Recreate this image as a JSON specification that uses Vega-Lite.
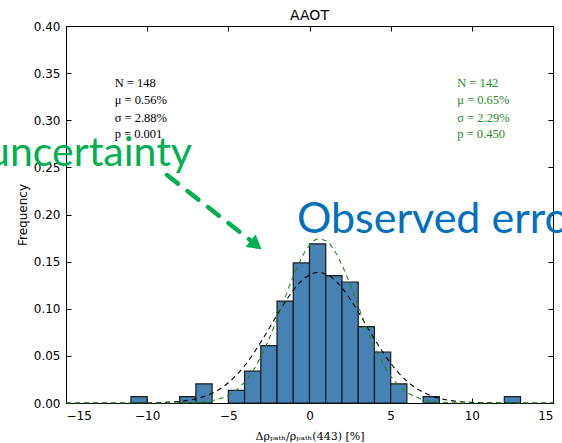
{
  "$schema": "https://vega.github.io/schema/vega-lite/v6.json",
  "autosize": {"type": "none"},
  "padding": {"left": 66, "top": 26, "right": 9, "bottom": 40},
  "width": 487,
  "height": 377,
  "background": "white",
  "title": {"text": "AAOT", "font": "DejaVu Sans", "fontSize": 14, "fontWeight": "normal", "color": "black", "offset": -3, "anchor": "middle", "frame": "group"},
  "config": {
    "view": {"stroke": "black", "strokeWidth": 1},
    "axis": {"grid": false, "labelFont": "DejaVu Sans", "labelFontSize": 12, "labelColor": "black", "titleFont": "DejaVu Sans", "titleFontSize": 12, "titleFontWeight": "normal", "titleColor": "black", "tickColor": "black", "domainColor": "black", "tickSize": -5, "labelPadding": 10}
  },
  "datasets": {
    "bars": [
      {"lo": -11, "hi": -10, "freq": 0.0068},
      {"lo": -8, "hi": -7, "freq": 0.0068},
      {"lo": -7, "hi": -6, "freq": 0.0203},
      {"lo": -5, "hi": -4, "freq": 0.0135},
      {"lo": -4, "hi": -3, "freq": 0.0338},
      {"lo": -3, "hi": -2, "freq": 0.0608},
      {"lo": -2, "hi": -1, "freq": 0.1081},
      {"lo": -1, "hi": 0, "freq": 0.1486},
      {"lo": 0, "hi": 1, "freq": 0.1689},
      {"lo": 1, "hi": 2, "freq": 0.1351},
      {"lo": 2, "hi": 3, "freq": 0.1284},
      {"lo": 3, "hi": 4, "freq": 0.0811},
      {"lo": 4, "hi": 5, "freq": 0.0541},
      {"lo": 5, "hi": 6, "freq": 0.0203},
      {"lo": 7, "hi": 8, "freq": 0.0068},
      {"lo": 12, "hi": 13, "freq": 0.0068}
    ],
    "curves": [
      {"s": "all", "x": -15, "y": 0}, {"s": "all", "x": -12, "y": 0.00000}, {"s": "all", "x": -10, "y": 0.00017}, {"s": "all", "x": -9, "y": 0.00056}, {"s": "all", "x": -8.5, "y": 0.00098}, {"s": "all", "x": -8, "y": 0.00167}, {"s": "all", "x": -7.5, "y": 0.00276}, {"s": "all", "x": -7, "y": 0.00442}, {"s": "all", "x": -6.5, "y": 0.00686}, {"s": "all", "x": -6, "y": 0.01035}, {"s": "all", "x": -5.5, "y": 0.01514}, {"s": "all", "x": -5, "y": 0.02149}, {"s": "all", "x": -4.5, "y": 0.02959}, {"s": "all", "x": -4, "y": 0.03955}, {"s": "all", "x": -3.5, "y": 0.05128}, {"s": "all", "x": -3, "y": 0.06452}, {"s": "all", "x": -2.5, "y": 0.07876}, {"s": "all", "x": -2, "y": 0.09331}, {"s": "all", "x": -1.5, "y": 0.10726}, {"s": "all", "x": -1, "y": 0.11963}, {"s": "all", "x": -0.5, "y": 0.12945}, {"s": "all", "x": 0, "y": 0.13593}, {"s": "all", "x": 0.5, "y": 0.13849}, {"s": "all", "x": 1, "y": 0.13691}, {"s": "all", "x": 1.5, "y": 0.13133}, {"s": "all", "x": 2, "y": 0.12224}, {"s": "all", "x": 2.5, "y": 0.11040}, {"s": "all", "x": 3, "y": 0.09676}, {"s": "all", "x": 3.5, "y": 0.08227}, {"s": "all", "x": 4, "y": 0.06788}, {"s": "all", "x": 4.5, "y": 0.05434}, {"s": "all", "x": 5, "y": 0.04221}, {"s": "all", "x": 5.5, "y": 0.03182}, {"s": "all", "x": 6, "y": 0.02327}, {"s": "all", "x": 6.5, "y": 0.01651}, {"s": "all", "x": 7, "y": 0.01137}, {"s": "all", "x": 7.5, "y": 0.00760}, {"s": "all", "x": 8, "y": 0.00492}, {"s": "all", "x": 8.5, "y": 0.00310}, {"s": "all", "x": 9, "y": 0.00189}, {"s": "all", "x": 9.5, "y": 0.00112}, {"s": "all", "x": 10, "y": 0.00064}, {"s": "all", "x": 11, "y": 0.00019}, {"s": "all", "x": 12, "y": 0.00005}, {"s": "all", "x": 15, "y": 0},
      {"s": "sub", "x": -15, "y": 0}, {"s": "sub", "x": -10, "y": 0}, {"s": "sub", "x": -8, "y": 0.00014}, {"s": "sub", "x": -7, "y": 0.00066}, {"s": "sub", "x": -6.5, "y": 0.00133}, {"s": "sub", "x": -6, "y": 0.00257}, {"s": "sub", "x": -5.5, "y": 0.00473}, {"s": "sub", "x": -5, "y": 0.00830}, {"s": "sub", "x": -4.5, "y": 0.01389}, {"s": "sub", "x": -4, "y": 0.02216}, {"s": "sub", "x": -3.5, "y": 0.03372}, {"s": "sub", "x": -3, "y": 0.04890}, {"s": "sub", "x": -2.5, "y": 0.06765}, {"s": "sub", "x": -2, "y": 0.08918}, {"s": "sub", "x": -1.5, "y": 0.11212}, {"s": "sub", "x": -1, "y": 0.13437}, {"s": "sub", "x": -0.5, "y": 0.15357}, {"s": "sub", "x": 0, "y": 0.16733}, {"s": "sub", "x": 0.5, "y": 0.17384}, {"s": "sub", "x": 1, "y": 0.17219}, {"s": "sub", "x": 1.5, "y": 0.16261}, {"s": "sub", "x": 2, "y": 0.14642}, {"s": "sub", "x": 2.5, "y": 0.12571}, {"s": "sub", "x": 3, "y": 0.10289}, {"s": "sub", "x": 3.5, "y": 0.08029}, {"s": "sub", "x": 4, "y": 0.05975}, {"s": "sub", "x": 4.5, "y": 0.04239}, {"s": "sub", "x": 5, "y": 0.02868}, {"s": "sub", "x": 5.5, "y": 0.01849}, {"s": "sub", "x": 6, "y": 0.01137}, {"s": "sub", "x": 6.5, "y": 0.00667}, {"s": "sub", "x": 7, "y": 0.00373}, {"s": "sub", "x": 7.5, "y": 0.00199}, {"s": "sub", "x": 8, "y": 0.00101}, {"s": "sub", "x": 9, "y": 0.00023}, {"s": "sub", "x": 10, "y": 0.00004}, {"s": "sub", "x": 15, "y": 0}
    ],
    "stats": [
      {"g": "all", "x": -12, "y": 0.3395, "t": "N = 148"},
      {"g": "all", "x": -12, "y": 0.3210, "t": "μ = 0.56%"},
      {"g": "all", "x": -12, "y": 0.3028, "t": "σ = 2.88%"},
      {"g": "all", "x": -12, "y": 0.2853, "t": "p = 0.001"},
      {"g": "sub", "x": 9.1, "y": 0.3395, "t": "N = 142"},
      {"g": "sub", "x": 9.1, "y": 0.3210, "t": "μ = 0.65%"},
      {"g": "sub", "x": 9.1, "y": 0.3028, "t": "σ = 2.29%"},
      {"g": "sub", "x": 9.1, "y": 0.2853, "t": "p = 0.450"}
    ]
  },
  "resolve": {"axis": {"x": "independent", "y": "independent"}},
  "layer": [
    {
      "data": {"name": "bars"},
      "mark": {"type": "bar", "fill": "#4682b4", "stroke": "#1a1a1a", "strokeWidth": 1.2},
      "encoding": {
        "x": {"field": "lo", "type": "quantitative", "scale": {"domain": [-15, 15], "nice": false, "zero": false},
              "axis": {"orient": "bottom", "values": [-15, -10, -5, 0, 5, 10, 15], "format": "d", "title": "Δρₚₐₜₕ/ρₚₐₜₕ(443) [%]", "titleFont": "DejaVu Serif", "titleFontSize": 11, "titlePadding": 9, "labelPadding": 12}},
        "x2": {"field": "hi"},
        "y": {"field": "freq", "type": "quantitative", "scale": {"domain": [0, 0.4], "nice": false},
              "axis": {"orient": "left", "values": [0, 0.05, 0.1, 0.15, 0.2, 0.25, 0.3, 0.35, 0.4], "format": ".2f", "title": "Frequency", "titlePadding": 4, "labelPadding": 11}},
        "y2": {"datum": 0}
      }
    },
    {
      "data": {"name": "curves"},
      "mark": {"type": "line", "strokeDash": [5, 4], "strokeWidth": 1.1, "interpolate": "monotone"},
      "encoding": {
        "x": {"field": "x", "type": "quantitative", "axis": null},
        "y": {"field": "y", "type": "quantitative", "axis": null},
        "detail": {"field": "s"},
        "color": {"field": "s", "type": "nominal", "scale": {"domain": ["all", "sub"], "range": ["#000000", "#1f8a1f"]}, "legend": null}
      }
    },
    {
      "data": {"name": "stats"},
      "mark": {"type": "text", "align": "left", "baseline": "middle", "font": "Liberation Serif", "fontSize": 12.5},
      "encoding": {
        "x": {"field": "x", "type": "quantitative", "axis": null},
        "y": {"field": "y", "type": "quantitative", "axis": null},
        "text": {"field": "t"},
        "color": {"field": "g", "type": "nominal", "scale": {"domain": ["all", "sub"], "range": ["#000000", "#1f8a1f"]}, "legend": null}
      }
    },
    {
      "data": {"values": [{"x": -7.24, "y": 0.2515, "t": "uncertainty"}]},
      "mark": {"type": "text", "align": "right", "baseline": "alphabetic", "font": "Lato", "fontSize": 41, "color": "#00b050"},
      "encoding": {
        "x": {"field": "x", "type": "quantitative", "axis": null},
        "y": {"field": "y", "type": "quantitative", "axis": null},
        "text": {"field": "t"}
      }
    },
    {
      "data": {"values": [{"x": -0.77, "y": 0.1804, "t": "Observed error"}]},
      "mark": {"type": "text", "align": "left", "baseline": "alphabetic", "font": "Lato", "fontSize": 43, "color": "#0070c0"},
      "encoding": {
        "x": {"field": "x", "type": "quantitative", "axis": null},
        "y": {"field": "y", "type": "quantitative", "axis": null},
        "text": {"field": "t"}
      }
    },
    {
      "data": {"values": [{"x": -8.78, "y": 0.2419, "x2": -3.66, "y2": 0.1729}]},
      "mark": {"type": "rule", "color": "#00b050", "strokeWidth": 4.5, "strokeDash": [14, 12], "strokeCap": "round"},
      "encoding": {
        "x": {"field": "x", "type": "quantitative", "axis": null},
        "y": {"field": "y", "type": "quantitative", "axis": null},
        "x2": {"field": "x2"},
        "y2": {"field": "y2"}
      }
    },
    {
      "data": {"values": [{"x": -3.29, "y": 0.1676}]},
      "mark": {"type": "point", "shape": "triangle-right", "filled": true, "color": "#00b050", "opacity": 1, "size": 260, "angle": 38.5},
      "encoding": {
        "x": {"field": "x", "type": "quantitative", "axis": null},
        "y": {"field": "y", "type": "quantitative", "axis": null}
      }
    },
    {
      "data": {"values": [{"x": 0, "y": 0}]},
      "mark": {"type": "point", "opacity": 0},
      "encoding": {
        "x": {"field": "x", "type": "quantitative", "axis": {"orient": "top", "values": [-15, -10, -5, 0, 5, 10, 15], "labels": false, "labelPadding": 0, "title": null}},
        "y": {"field": "y", "type": "quantitative", "axis": {"orient": "right", "values": [0, 0.05, 0.1, 0.15, 0.2, 0.25, 0.3, 0.35, 0.4], "labels": false, "labelPadding": 0, "title": null}}
      }
    }
  ]
}
